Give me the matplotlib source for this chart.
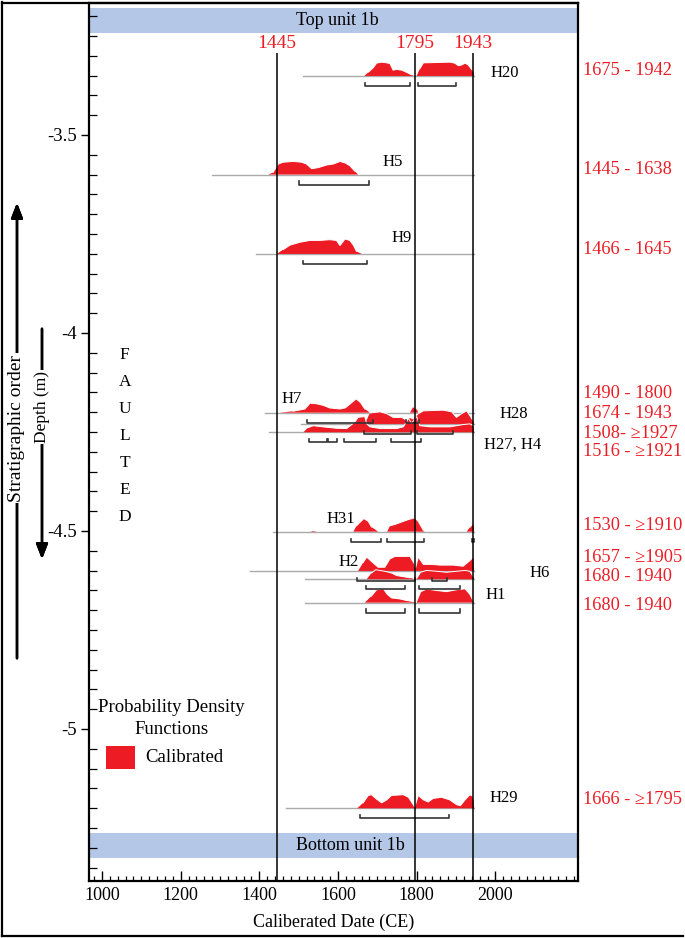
import numpy as np
import matplotlib
matplotlib.use("Agg")
import matplotlib.pyplot as plt
from matplotlib.patches import Rectangle
from matplotlib.lines import Line2D

plt.rcParams['font.family'] = ['Liberation Serif', 'DejaVu Serif']
plt.rcParams['axes.unicode_minus'] = False

RED = '#ed1c24'
BAND = '#b4c7e7'

# --- data ---------------------------------------------------------------
SAMPLE_NAMES = ["H20", "H5", "H9", "H7", "H28", "H27, H4", "H31", "H2", "H6", "H1", "H29"]
SAMPLE_DEPTHS = [-3.351, -3.600, -3.8005, -4.2013, -4.2298, -4.2508,
                 -4.5018, -4.601, -4.622, -4.681, -5.2003]
BASELINE_START = [1511, 1280, 1392, 1414, 1507, 1425, 1434, 1376, 1516, 1516, 1469]
BASELINE_END = 1946

H20_YR = [1667, 1677, 1690, 1698, 1711, 1724, 1732, 1740, 1749, 1762, 1774, 1787, 1793,
          1800, 1808, 1817, 1884, 1897, 1906, 1914, 1923, 1931, 1940, 1945, 1946]
H20_P = [0, .26, .59, .90, .97, .92, .87, .41, .46, .41, .26, .08, 0,
         0, .51, .92, .97, .90, .72, .77, .90, .77, .45, .3, 0]

H5_YR = [1423, 1435, 1448, 1461, 1486, 1507, 1520, 1533, 1550, 1571, 1588, 1605, 1618, 1630, 1643, 1651]
H5_P = [0, .15, .74, .87, .92, .87, .74, .41, .49, .67, .74, .92, .82, .62, .23, 0]

H9_YR = [1444, 1461, 1478, 1503, 1529, 1554, 1579, 1596, 1605, 1618, 1630, 1639, 1647, 1660]
H9_P = [0, .31, .62, .82, .95, .95, 1.0, .95, .59, 1.05, .95, .62, .18, 0]

H7_YR = [1452, 1486, 1516, 1529, 1546, 1563, 1579, 1605, 1618, 1630, 1646, 1657, 1668, 1681,
         1783, 1791, 1800, 1804]
H7_P = [0, .10, .26, .67, .62, .51, .33, .26, .33, .59, .97, .72, .26, 0,
        0, .41, .26, 0]

H28_YR = [1668, 1681, 1707, 1724, 1740, 1762, 1774, 1783, 1790, 1804, 1817, 1867, 1889,
          1901, 1914, 1927, 1938, 1944, 1946]
H28_P = [0, .77, .85, .72, .46, .46, .26, .46, .35, .72, .92, .97, .85,
         .46, .72, .92, .46, .2, 0]

H27_YR = [1512, 1524, 1537, 1562, 1596, 1622, 1643, 1651, 1668, 1673, 1681, 1707, 1749, 1766,
          1779, 1787, 1800, 1808, 1834, 1884, 1918, 1935, 1944, 1946]
H27_P = [0, .33, .46, .38, .28, .26, .72, 1.05, 1.1, .59, .38, .26, .26, .38,
         .97, .64, 1.1, .46, .38, .38, .54, .59, .46, 0]

H31_YR = [1529, 1537, 1546, 1639, 1647, 1660, 1666, 1677, 1685, 1702, 1725, 1732, 1745, 1766,
          1779, 1795, 1804, 1817, 1820, 1927, 1936, 1944, 1946]
H31_P = [0, .05, 0, 0, .41, .77, .92, .72, .33, 0, 0, .41, .51, .72,
         .85, .97, .72, .08, 0, 0, .33, .59, 0]

H2_YR = [1651, 1664, 1673, 1685, 1702, 1719, 1732, 1745, 1783, 1794, 1797, 1804, 1817, 1838,
         1859, 1893, 1918, 1935, 1944, 1946]
H2_P = [0, .59, .97, .67, .26, .26, .85, 1.02, 1.02, .51, .2, .97, .46, .46,
        .41, .41, .33, .72, .97, 0]

H6_YR = [1673, 1685, 1696, 1719, 1736, 1749, 1766, 1783, 1795, 1800, 1812, 1825, 1851, 1876,
         1901, 1923, 1935, 1944, 1946]
H6_P = [0, .44, .67, .56, .44, .26, .18, .10, 0, 0, .51, .62, .56, .49,
        .56, .62, .56, .18, 0]

H1_YR = [1668, 1685, 1698, 1715, 1725, 1736, 1757, 1774, 1791, 1795, 1800, 1812, 1825, 1851,
         1876, 1901, 1923, 1935, 1944, 1946]
H1_P = [0, .46, .90, .97, .59, .33, .26, .15, .08, 0, 0, .79, .95, .85,
        .77, .90, .97, .59, .1, 0]

H29_YR = [1649, 1664, 1677, 1685, 1698, 1711, 1724, 1736, 1766, 1779, 1791, 1795, 1804, 1817,
          1829, 1842, 1863, 1884, 1901, 1911, 1923, 1935, 1942, 1945, 1946]
H29_P = [0, .38, .90, .95, .64, .38, .59, .90, .95, .77, .26, .08, .90, .59,
         .44, .69, .77, .59, .26, .18, .59, .95, .85, .6, 0]

# calibrated ranges shown as brackets under each PDF
H20_RANGES = [(1668, 1784), (1804, 1899)]
H5_RANGES = [(1501, 1679)]
H9_RANGES = [(1512, 1674)]
H7_RANGES = [(1520, 1688), (1772, 1806)]
H28_RANGES = [(1667, 1785), (1802, 1891)]
H27_RANGES = [(1527, 1573), (1575, 1597), (1616, 1696), (1734, 1810)]
H31_RANGES = [(1634, 1709), (1725, 1818), (1940, 1946)]
H2_RANGES = [(1649, 1795), (1838, 1876)]
H6_RANGES = [(1671, 1770), (1806, 1910)]
H1_RANGES = [(1671, 1770), (1806, 1909)]
H29_RANGES = [(1656, 1883)]

# sample label positions (year, depth)
LABEL_X = [1988, 1714, 1736, 1457, 2011, 1971, 1571, 1600, 2086, 1976, 1984]
LABEL_Y = [-3.343, -3.567, -3.761, -4.167, -4.205, -4.283, -4.470, -4.579, -4.605, -4.662, -5.175]

RANGE_TEXT = ["1675 - 1942", "1445 - 1638", "1466 - 1645", "1490 - 1800", "1674 - 1943",
              "1508- \u22651927", "1516 - \u22651921", "1530 - \u22651910", "1657 - \u22651905",
              "1680 - 1940", "1680 - 1940", "1666 - \u22651795"]
RANGE_TEXT_Y = [-3.336, -3.588, -3.788, -4.154, -4.2045, -4.255, -4.3005,
                -4.485, -4.568, -4.616, -4.687, -5.179]

REF_YEARS = [1445, 1795, 1943]

PDF_YR = [H20_YR, H5_YR, H9_YR, H7_YR, H28_YR, H27_YR, H31_YR, H2_YR, H6_YR, H1_YR, H29_YR]
PDF_P = [H20_P, H5_P, H9_P, H7_P, H28_P, H27_P, H31_P, H2_P, H6_P, H1_P, H29_P]
RANGES = [H20_RANGES, H5_RANGES, H9_RANGES, H7_RANGES, H28_RANGES, H27_RANGES,
          H31_RANGES, H2_RANGES, H6_RANGES, H1_RANGES, H29_RANGES]

# --- figure -------------------------------------------------------------
W, H = 685, 938
fig = plt.figure(figsize=(W / 100, H / 100), dpi=100)


def fpx(x, y):
    """pixel position (from top-left) -> figure fraction"""
    return x / W, 1 - y / H


ax = fig.add_axes([89 / W, 1 - 881 / H, (578 - 89) / W, (881 - 3) / H])
ax.set_xlim(967, 2210)
ax.set_ylim(-5.384, -3.1667)

PDF_SCALE = 0.036
BRACKET_OFF = 0.0253
BRACKET_TICK = 0.008

# unit bands
for y0, y1, txt in [(-3.2424, -3.179, "Top unit 1b"), (-5.3258, -5.2626, "Bottom unit 1b")]:
    ax.axhspan(y0, y1, color=BAND, zorder=0.5, lw=0)
    ax.text(1493, (y0 + y1) / 2, txt, fontsize=13, ha='left', va='center', zorder=5)

# reference lines
for yr in REF_YEARS:
    ax.vlines(yr, -5.384, -3.2922, color='black', lw=1.1, zorder=6)
    ax.text(yr, -3.2684, str(yr), color=RED, fontsize=14, ha='center', va='center')

for i, name in enumerate(SAMPLE_NAMES):
    base = SAMPLE_DEPTHS[i]
    ax.plot([BASELINE_START[i], BASELINE_END], [base, base], color='#aaaaaa', lw=1.0, zorder=1)
    yr = np.array(PDF_YR[i], dtype=float)
    p = np.array(PDF_P[i], dtype=float)
    top = base + p * PDF_SCALE
    ax.fill_between(yr, base, top, facecolor=RED, edgecolor='none', zorder=2 + i * 0.01)
    edge = np.where(p > 0, top, np.nan)
    ax.plot(yr, edge, color='white', lw=0.7, zorder=2.005 + i * 0.01)
    yb = base - BRACKET_OFF
    for a, b in RANGES[i]:
        ax.plot([a, a, b, b], [yb + BRACKET_TICK, yb, yb, yb + BRACKET_TICK],
                color='#333333', lw=1.2, zorder=4)
    ax.text(LABEL_X[i], LABEL_Y[i], name, fontsize=12, ha='left', va='center', zorder=5)

ytr = ax.get_yaxis_transform()
for txt, yy in zip(RANGE_TEXT, RANGE_TEXT_Y):
    ax.text(1.0102, yy, txt, transform=ytr, color=RED, fontsize=13.2,
            ha='left', va='center', clip_on=False)

# FAULTED
for k, ch in enumerate("FAULTED"):
    ax.text(1058, -4.0548 - k * 0.0685, ch, fontsize=12.5, ha='center', va='center')

# axes styling
for s in ax.spines.values():
    s.set_linewidth(1.6)
ax.set_xticks(np.arange(1000, 2001, 200))
ax.set_xticks(np.arange(980, 2210, 20), minor=True)
ax.set_yticks([-5, -4.5, -4, -3.5])
ax.set_yticklabels(["-5", "-4.5", "-4", "-3.5"])
ax.set_yticks(np.arange(-5.35, -3.19, 0.05), minor=True)
ax.tick_params(axis='x', which='major', direction='in', length=7, width=1, labelsize=13, pad=4)
ax.tick_params(axis='x', which='minor', direction='in', length=3.5, width=0.9)
ax.tick_params(axis='y', which='major', direction='out', length=6, width=1, labelsize=13.5, pad=3)
ax.tick_params(axis='y', which='minor', direction='in', length=6, width=0.9)
ax.set_xlabel("Caliberated Date (CE)", fontsize=13, labelpad=7)

# outer frame of the panel
fig.add_artist(Line2D([2 / W, 2 / W], [1 - 936 / H, 1 - 2 / H], color='black', lw=1.6))
fig.add_artist(Line2D([2 / W, 578 / W], [1 - 3 / H, 1 - 3 / H], color='black', lw=1.6))
fig.add_artist(Line2D([2 / W, 683 / W], [1 - 936 / H, 1 - 936 / H], color='black', lw=1.6))

# stratigraphic order / depth arrows
fig.add_artist(plt.annotate("", xy=fpx(17, 200), xytext=fpx(17, 661), xycoords='figure fraction',
                            arrowprops=dict(arrowstyle='-|>,head_length=0.9,head_width=0.35',
                                            color='black', lw=1.8)))
fig.text(*fpx(17, 428), "Stratigraphic order", rotation=90, ha='center', va='center',
         fontsize=14, bbox=dict(facecolor='white', edgecolor='none', pad=1))
fig.add_artist(plt.annotate("", xy=fpx(42, 562), xytext=fpx(42, 326), xycoords='figure fraction',
                            arrowprops=dict(arrowstyle='-|>,head_length=0.9,head_width=0.35',
                                            color='black', lw=1.8)))
fig.text(*fpx(42, 407), "Depth (m)", rotation=90, ha='center', va='center',
         fontsize=12.5, bbox=dict(facecolor='white', edgecolor='none', pad=1))

# legend
fig.text(*fpx(171, 707), "Probability Density", ha='center', va='center', fontsize=13.5)
fig.text(*fpx(172, 729), "Functions", ha='center', va='center', fontsize=13.5)
fig.add_artist(Rectangle(fpx(106, 769), 29 / W, 22.6 / H, facecolor=RED, edgecolor='none',
                         transform=fig.transFigure))
fig.text(*fpx(145, 757), "Calibrated", ha='left', va='center', fontsize=13.5)

fig.savefig("out.png", dpi=100)
